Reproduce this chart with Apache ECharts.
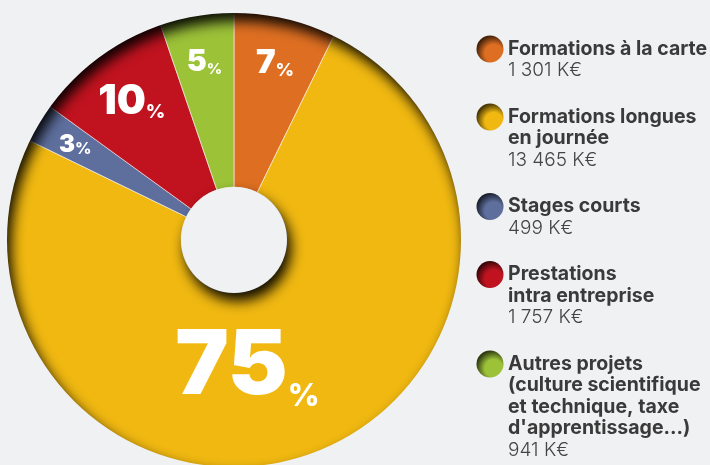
<!DOCTYPE html>
<html>
<head>
<meta charset="utf-8">
<script src="https://cdn.jsdelivr.net/npm/echarts@6/dist/echarts.min.js"></script>
<style>
  html, body { margin: 0; padding: 0; background: #f0f1f3; }
  #chart { width: 710px; height: 465px; }
</style>
</head>
<body>
<div id="chart"></div>
<script>
// data
const names = [
  'Formations à la carte',
  'Formations longues\nen journée',
  'Stages courts',
  'Prestations\nintra entreprise',
  "Autres projets\n(culture scientifique\net technique, taxe\nd'apprentissage...)"
];
const amounts = [1301, 13465, 499, 1757, 941];
const amountLabels = ['1 301 K€', '13 465 K€', '499 K€', '1 757 K€', '941 K€'];
const colors = ['#de6f22', '#f0b811', '#5e6f9e', '#c0131f', '#9cc238'];

// label look per slice (size of the number, size of the % sign, distance from centre, small turn)
const labelStyles = [
  { big: 33, small: 18, r: 182, turn: 0 },
  { big: 90, small: 31, r: 128, turn: -13 },
  { big: 24, small: 16, r: 185, turn: 0 },
  { big: 41, small: 19, r: 172, turn: 0 },
  { big: 30, small: 15, r: 180, turn: 0 }
];

const bg = '#f0f1f3';
const cx = 234, cy = 240, rOut = 227, rIn = 53;
const total = amounts.reduce((a, b) => a + b, 0);
const labelFont = 'Inter';

function shade(hex, f) {
  const n = parseInt(hex.slice(1), 16);
  const r = Math.round(((n >> 16) & 255) * f);
  const g = Math.round(((n >> 8) & 255) * f);
  const b = Math.round((n & 255) * f);
  return `rgb(${r},${g},${b})`;
}

const pieData = names.map(function (name, i) {
  const st = labelStyles[i];
  // line height of the % token so both baselines meet
  const smallLH = Math.round(0.226 * st.big + 0.774 * st.small);
  return {
    name: name,
    value: amounts[i],
    itemStyle: { color: colors[i] },
    label: {
      rich: {
        n: { fontSize: st.big, lineHeight: st.big, fontWeight: 900, fontFamily: labelFont, color: '#fff' },
        p: { fontSize: st.small, lineHeight: smallLH, fontWeight: 800, fontFamily: labelFont, color: '#fff', verticalAlign: 'bottom' }
      }
    }
  };
});

const chart = echarts.init(document.getElementById('chart'));

const shadowStyle = {
  fill: bg,
  shadowBlur: 13,
  shadowOffsetX: 4,
  shadowOffsetY: 8,
  shadowColor: 'rgba(0,0,0,0.95)'
};

const legendElements = [];
let lineCenter = 49;
const lineH = 21.5;
const itemGap = 25;
names.forEach(function (name, i) {
  const nameLines = name.split('\n').length;
  legendElements.push({
    type: 'circle',
    z: 20,
    shape: { cx: 490, cy: lineCenter, r: 13.5 },
    style: {
      fill: {
        type: 'radial', x: 0.64, y: 0.66, r: 0.66,
        colorStops: [
          { offset: 0, color: colors[i] },
          { offset: 0.5, color: colors[i] },
          { offset: 1, color: shade(colors[i], 0.3) }
        ]
      }
    }
  });
  legendElements.push({
    type: 'text',
    z: 20,
    x: 508,
    y: lineCenter - lineH / 2,
    style: {
      text: name.split('\n').map(s => '{b|' + s + '}').join('\n') + '\n{v|' + amountLabels[i] + '}',
      verticalAlign: 'top',
      align: 'left',
      rich: {
        b: { fontFamily: 'Inter', fontWeight: 700, fontSize: 19.5, lineHeight: lineH, fill: '#3a3a3a', color: '#3a3a3a' },
        v: { fontFamily: 'Inter', fontWeight: 300, fontSize: 19, lineHeight: lineH, fill: '#444', color: '#444' }
      }
    }
  });
  lineCenter += (nameLines + 1) * lineH + itemGap;
});

chart.setOption({
  backgroundColor: bg,
  animation: false,
  series: [{
    type: 'pie',
    center: [cx, cy],
    radius: [rIn, rOut + 2],
    startAngle: 90,
    clockwise: true,
    avoidLabelOverlap: false,
    emphasis: { disabled: true },
    itemStyle: { borderColor: 'rgba(255,255,255,0.55)', borderWidth: 1 },
    labelLine: { show: false },
    label: {
      show: true,
      position: 'inside',
      formatter: function (p) {
        return '{n|' + Math.round(p.value / total * 100) + '}{p|%}';
      }
    },
    labelLayout: function (params) {
      const i = params.dataIndex;
      const before = amounts.slice(0, i).reduce((a, b) => a + b, 0);
      const mid = (before + amounts[i] / 2) / total;
      const ang = (90 - mid * 360 + labelStyles[i].turn) * Math.PI / 180;
      const r = labelStyles[i].r;
      return {
        x: cx + r * Math.cos(ang),
        y: cy - r * Math.sin(ang),
        align: 'center',
        verticalAlign: 'middle'
      };
    },
    data: pieData
  }],
  graphic: {
    elements: [
      // surface around the pie and the hole, casting the inner shadow
      { type: 'ring', z: 10, silent: true, shape: { cx: cx, cy: cy, r: 1500, r0: rOut }, style: shadowStyle },
      { type: 'circle', z: 10, silent: true, shape: { cx: cx, cy: cy, r: rIn }, style: shadowStyle }
    ].concat(legendElements)
  }
});
</script>
</body>
</html>
